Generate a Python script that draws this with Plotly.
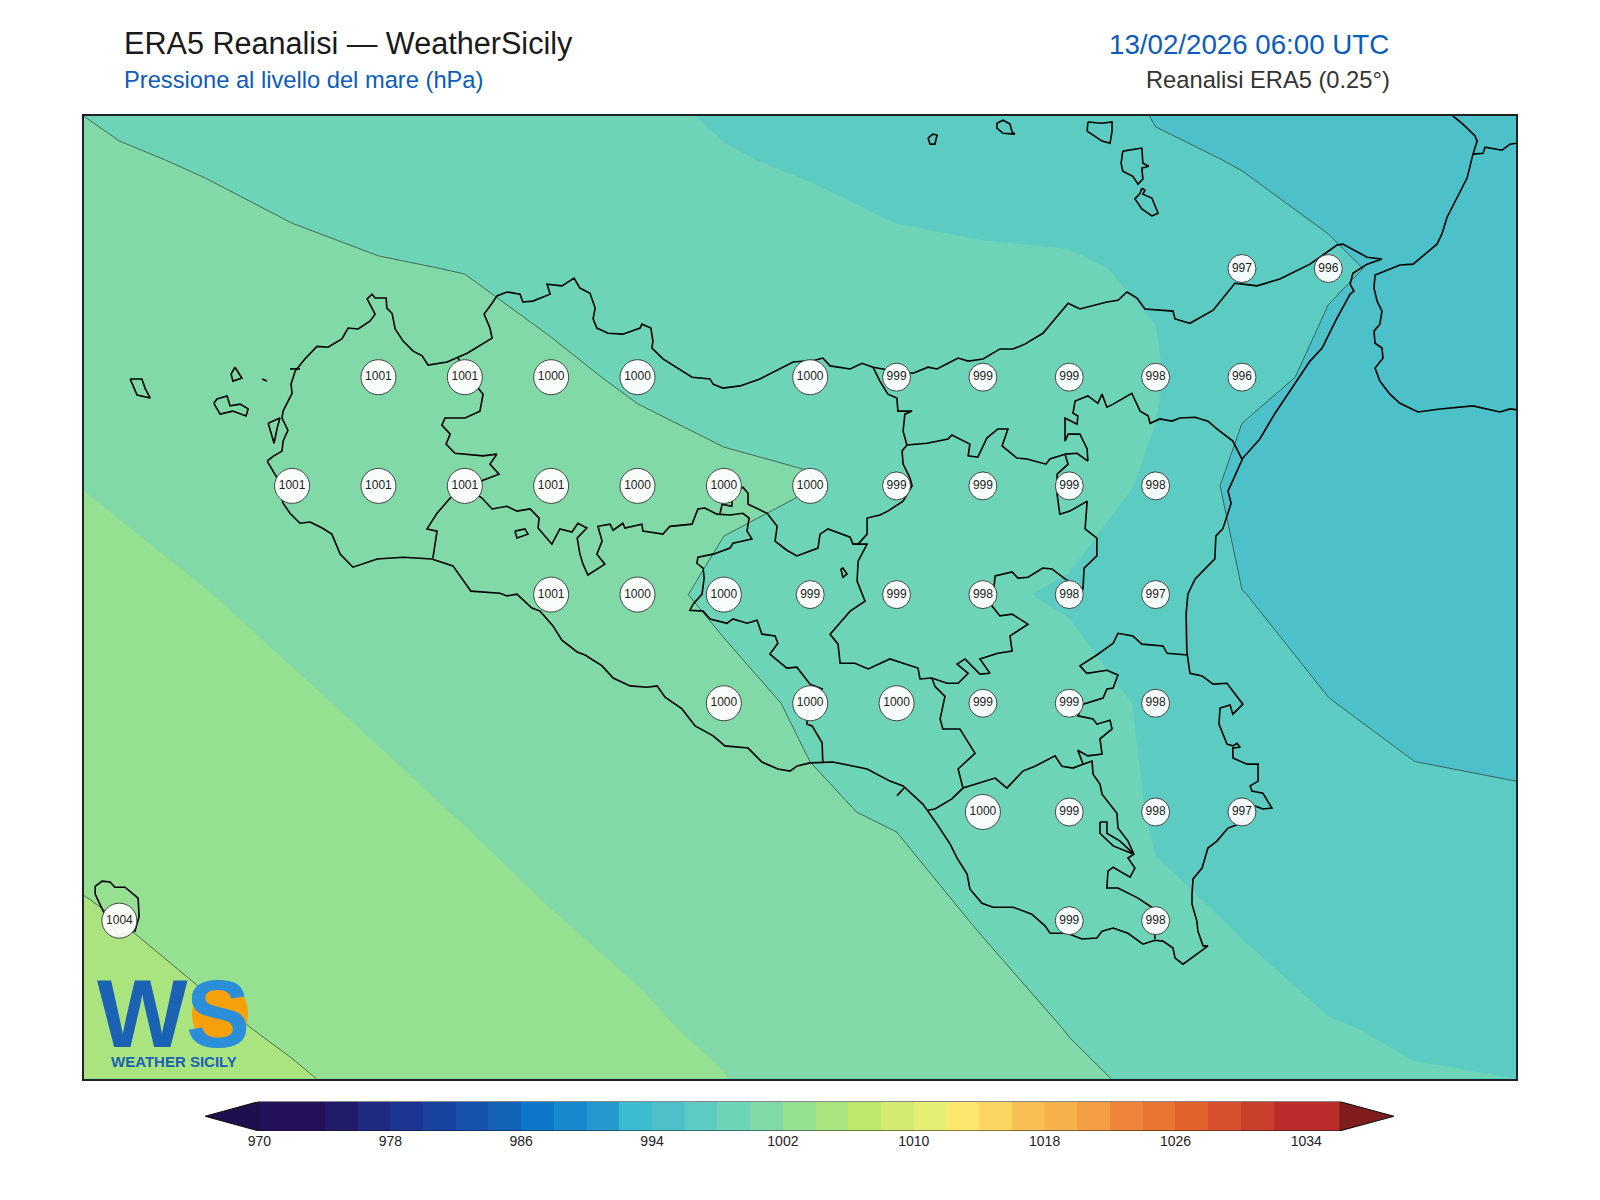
import numpy as np
import plotly.graph_objects as go

# ERA5 grid, 0.25 deg
lats = [38.75, 38.5, 38.25, 38.0, 37.75, 37.5, 37.25, 37.0, 36.75, 36.5, 36.25]
lons = [11.75, 12.0, 12.25, 12.5, 12.75, 13.0, 13.25, 13.5, 13.75, 14.0, 14.25, 14.5, 14.75, 15.0, 15.25, 15.5, 15.75, 16.0, 16.25]

# sea level pressure (hPa), one list per longitude, north to south
p_1175 = [999.84, 1000.43, 1001.02, 1001.61, 1002.18, 1002.71, 1003.24, 1003.77, 1004.30, 1004.83, 1005.36]
p_1200 = [999.52, 1000.10, 1000.68, 1001.25, 1001.83, 1002.38, 1002.92, 1003.46, 1004.00, 1004.54, 1005.08]
p_1225 = [999.38, 999.91, 1000.44, 1000.97, 1001.50, 1002.03, 1002.57, 1003.11, 1003.65, 1004.18, 1004.72]
p_1250 = [999.23, 999.72, 1000.20, 1000.69, 1001.17, 1001.66, 1002.17, 1002.73, 1003.29, 1003.85, 1004.41]
p_1275 = [999.18, 999.62, 1000.05, 1000.49, 1000.93, 1001.36, 1001.80, 1002.31, 1002.89, 1003.46, 1004.04]
p_1300 = [999.20, 999.59, 999.98, 1000.37, 1000.76, 1001.15, 1001.54, 1001.93, 1002.47, 1003.00, 1003.55]
p_1325 = [998.99, 999.38, 999.76, 1000.14, 1000.52, 1000.90, 1001.28, 1001.66, 1002.04, 1002.55, 1003.05]
p_1350 = [997.94, 998.57, 999.23, 999.90, 1000.31, 1000.50, 1001.04, 1001.41, 1001.78, 1002.15, 1002.50]
p_1375 = [997.37, 998.12, 998.82, 999.46, 1000.30, 999.65, 1000.53, 1000.96, 1001.39, 1001.83, 1002.27]
p_1400 = [996.74, 997.80, 998.79, 999.81, 1000.03, 999.30, 999.73, 1000.23, 1000.70, 1001.20, 1001.70]
p_1425 = [996.80, 997.40, 998.42, 999.30, 999.45, 999.30, 999.60, 999.80, 1000.89, 1001.20, 1001.50]
p_1450 = [996.60, 997.40, 998.21, 999.00, 998.90, 998.20, 999.30, 999.60, 999.83, 1000.95, 1001.30]
p_1475 = [996.70, 997.40, 998.13, 998.80, 998.60, 997.85, 998.54, 998.70, 998.90, 999.93, 1000.90]
p_1500 = [995.31, 996.30, 997.84, 998.15, 997.80, 997.20, 997.80, 997.90, 998.15, 999.00, 1000.16]
p_1525 = [995.00, 995.91, 996.80, 996.45, 995.39, 996.03, 996.90, 997.40, 997.96, 998.20, 999.00]
p_1550 = [995.00, 995.70, 996.14, 995.72, 995.40, 995.50, 996.03, 996.60, 997.20, 998.11, 998.60]
p_1575 = [994.90, 995.40, 995.79, 995.20, 995.10, 995.30, 995.70, 996.26, 996.90, 997.80, 998.48]
p_1600 = [994.80, 995.00, 995.00, 994.90, 994.90, 995.10, 995.40, 996.27, 996.70, 997.40, 998.80]
p_1625 = [994.60, 994.80, 994.80, 994.70, 994.70, 994.90, 995.20, 996.15, 996.50, 997.10, 998.70]

# labelled grid points
lab_lon = [15.25, 15.5,
           12.75, 13.0, 13.25, 13.5, 14.0, 14.25, 14.5, 14.75, 15.0, 15.25,
           12.5, 12.75, 13.0, 13.25, 13.5, 13.75, 14.0, 14.25, 14.5, 14.75, 15.0,
           13.25, 13.5, 13.75, 14.0, 14.25, 14.5, 14.75, 15.0,
           13.75, 14.0, 14.25, 14.5, 14.75, 15.0,
           14.5, 14.75, 15.0, 15.25,
           14.75, 15.0, 12.0]
lab_lat = [38.25, 38.25,
           38.0, 38.0, 38.0, 38.0, 38.0, 38.0, 38.0, 38.0, 38.0, 38.0,
           37.75, 37.75, 37.75, 37.75, 37.75, 37.75, 37.75, 37.75, 37.75, 37.75, 37.75,
           37.5, 37.5, 37.5, 37.5, 37.5, 37.5, 37.5, 37.5,
           37.25, 37.25, 37.25, 37.25, 37.25, 37.25,
           37.0, 37.0, 37.0, 37.0,
           36.75, 36.75, 36.75]
lab_val = [997, 996,
           1001, 1001, 1000, 1000, 1000, 999, 999, 999, 998, 996,
           1001, 1001, 1001, 1001, 1000, 1000, 1000, 999, 999, 999, 998,
           1001, 1000, 1000, 999, 999, 998, 998, 997,
           1000, 1000, 1000, 999, 999, 998,
           1000, 999, 998, 997,
           999, 998, 1004]

# colour bar
levels = list(range(970, 1037, 2))
band_colors = ["#24115a", "#24115a", "#211b6b", "#1f2a80", "#1b3591", "#17429f", "#1552ad", "#1262b8",
               "#0e78c8", "#1888cf", "#2599cf", "#3bbcd1", "#4cc1ca", "#5ccbc1", "#6dd4b8", "#80d9a7",
               "#96e092", "#aae47e", "#bde86b", "#d3ec6f", "#e4ee72", "#fde770", "#fcd663", "#f9bf55",
               "#f6b04c", "#f39e42", "#ee8639", "#e97530", "#e26029", "#d84f2c", "#c93f2c", "#bc2c2c", "#bc2c2c"]
bar_ticks = [970, 978, 986, 994, 1002, 1010, 1018, 1026, 1034]

# coast of Sicily
sic_lon = [12.427, 12.444, 12.470, 12.473, 12.487, 12.470, 12.473, 12.499, 12.496, 12.508, 12.536, 12.571, 12.603, 12.643, 12.661, 12.690, 12.724, 12.739, 12.716, 12.730, 12.739, 12.771, 12.773, 12.788, 12.797, 12.820, 12.849, 12.875, 12.892, 12.947, 13.005, 13.077, 13.071, 13.054, 13.077, 13.091, 13.120, 13.158, 13.166, 13.195, 13.245, 13.236, 13.279, 13.314, 13.331, 13.360, 13.375, 13.369, 13.380, 13.412, 13.455, 13.505, 13.510, 13.536, 13.542, 13.539, 13.571, 13.612, 13.655, 13.707, 13.716, 13.744, 13.794, 13.851, 13.947, 14.010, 14.033, 14.054, 14.112, 14.146, 14.178, 14.227, 14.294, 14.337, 14.363, 14.395, 14.424, 14.453, 14.496, 14.545, 14.583, 14.617, 14.669, 14.742, 14.776, 14.854, 14.886, 14.912, 14.941, 14.964, 15.045, 15.051, 15.094, 15.161, 15.224, 15.247, 15.288, 15.354, 15.441, 15.519, 15.536, 15.606, 15.649, 15.606, 15.565, 15.557, 15.568, 15.557, 15.519, 15.476, 15.441, 15.340, 15.296, 15.247, 15.204, 15.213, 15.195, 15.189, 15.169, 15.166, 15.109, 15.088, 15.083, 15.085, 15.094, 15.129, 15.161, 15.201, 15.247, 15.218, 15.210, 15.181, 15.178, 15.201, 15.218, 15.230, 15.239, 15.218, 15.218, 15.259, 15.291, 15.291, 15.268, 15.273, 15.305, 15.331, 15.305, 15.282, 15.259, 15.204, 15.172, 15.146, 15.129, 15.103, 15.100, 15.100, 15.114, 15.117, 15.132, 15.146, 15.114, 15.074, 15.051, 15.045, 15.016, 14.993, 14.958, 14.915, 14.872, 14.840, 14.825, 14.782, 14.739, 14.690, 14.675, 14.637, 14.583, 14.525, 14.493, 14.458, 14.450, 14.421, 14.401, 14.363, 14.322, 14.265, 14.227, 14.161, 14.062, 13.996, 13.959, 13.938, 13.903, 13.857, 13.817, 13.750, 13.716, 13.664, 13.626, 13.577, 13.554, 13.525, 13.476, 13.427, 13.395, 13.346, 13.323, 13.279, 13.253, 13.216, 13.192, 13.149, 13.120, 13.100, 13.016, 12.964, 12.903, 12.820, 12.745, 12.675, 12.638, 12.614, 12.586, 12.551, 12.522, 12.493, 12.473, 12.456, 12.427]
sic_lat = [37.807, 37.818, 37.830, 37.853, 37.878, 37.906, 37.922, 37.963, 37.984, 38.014, 38.042, 38.071, 38.069, 38.088, 38.113, 38.111, 38.129, 38.145, 38.180, 38.191, 38.182, 38.182, 38.159, 38.147, 38.111, 38.083, 38.060, 38.049, 38.028, 38.035, 38.055, 38.090, 38.113, 38.145, 38.170, 38.187, 38.196, 38.191, 38.173, 38.175, 38.191, 38.214, 38.210, 38.228, 38.205, 38.193, 38.159, 38.134, 38.113, 38.101, 38.099, 38.113, 38.122, 38.113, 38.083, 38.067, 38.042, 38.021, 38.000, 37.996, 37.984, 37.975, 37.980, 37.996, 38.035, 38.039, 38.044, 38.026, 38.019, 38.032, 38.023, 38.016, 38.009, 38.023, 38.019, 38.032, 38.044, 38.037, 38.042, 38.065, 38.065, 38.076, 38.101, 38.170, 38.157, 38.173, 38.177, 38.196, 38.182, 38.157, 38.152, 38.134, 38.124, 38.154, 38.216, 38.214, 38.210, 38.226, 38.260, 38.304, 38.306, 38.276, 38.272, 38.260, 38.239, 38.214, 38.198, 38.191, 38.136, 38.067, 38.037, 37.917, 37.858, 37.814, 37.738, 37.710, 37.669, 37.651, 37.635, 37.582, 37.536, 37.501, 37.455, 37.370, 37.319, 37.313, 37.294, 37.296, 37.248, 37.225, 37.246, 37.239, 37.202, 37.156, 37.152, 37.158, 37.149, 37.147, 37.124, 37.110, 37.110, 37.071, 37.060, 37.048, 37.043, 37.009, 37.007, 37.014, 36.979, 36.963, 36.933, 36.917, 36.871, 36.846, 36.811, 36.788, 36.749, 36.726, 36.692, 36.692, 36.673, 36.650, 36.664, 36.687, 36.703, 36.705, 36.696, 36.721, 36.733, 36.726, 36.710, 36.708, 36.721, 36.721, 36.738, 36.765, 36.781, 36.781, 36.790, 36.823, 36.857, 36.894, 36.926, 36.972, 37.018, 37.060, 37.071, 37.099, 37.115, 37.113, 37.106, 37.094, 37.099, 37.115, 37.147, 37.152, 37.175, 37.198, 37.237, 37.264, 37.290, 37.287, 37.290, 37.308, 37.336, 37.361, 37.368, 37.395, 37.428, 37.462, 37.469, 37.501, 37.497, 37.503, 37.508, 37.566, 37.582, 37.586, 37.582, 37.563, 37.593, 37.639, 37.653, 37.667, 37.664, 37.687, 37.710, 37.768, 37.807]

# province borders
tp_lon = [12.979, 13.005, 13.051, 13.042, 12.999, 12.941, 12.932, 12.956, 12.944, 12.970, 13.051, 13.091, 13.071, 13.097, 13.051, 13.005, 12.956, 12.918, 12.889, 12.918, 12.906]
tp_lat = [38.044, 38.007, 37.961, 37.922, 37.906, 37.906, 37.890, 37.869, 37.846, 37.825, 37.819, 37.823, 37.800, 37.777, 37.763, 37.745, 37.722, 37.687, 37.651, 37.646, 37.584]
ag_lon = [13.005, 13.048, 13.077, 13.120, 13.149, 13.187, 13.213, 13.210, 13.250, 13.273, 13.308, 13.325, 13.351, 13.323, 13.331, 13.340, 13.354, 13.403, 13.380, 13.395, 13.383, 13.418, 13.427, 13.455, 13.461, 13.510, 13.513, 13.571, 13.591, 13.655, 13.672, 13.692, 13.727, 13.765, 13.802, 13.820, 13.817, 13.814, 13.828, 13.773, 13.765, 13.716, 13.672, 13.669, 13.687, 13.690, 13.684, 13.658, 13.649, 13.687, 13.707, 13.756, 13.773, 13.814, 13.843, 13.857, 13.895, 13.903, 13.880, 13.929, 13.958, 13.996, 14.031, 13.987, 13.987, 14.002, 14.031, 14.033]
ag_lat = [37.745, 37.722, 37.697, 37.703, 37.692, 37.697, 37.676, 37.653, 37.616, 37.651, 37.644, 37.664, 37.653, 37.630, 37.593, 37.570, 37.545, 37.570, 37.593, 37.623, 37.657, 37.662, 37.648, 37.664, 37.653, 37.662, 37.646, 37.639, 37.657, 37.662, 37.697, 37.699, 37.685, 37.683, 37.687, 37.676, 37.662, 37.646, 37.628, 37.618, 37.607, 37.593, 37.586, 37.572, 37.561, 37.538, 37.501, 37.478, 37.464, 37.462, 37.444, 37.434, 37.444, 37.434, 37.441, 37.409, 37.405, 37.388, 37.363, 37.331, 37.333, 37.294, 37.283, 37.225, 37.202, 37.198, 37.159, 37.112]
cl_lon = [13.736, 13.742, 13.770, 13.773, 13.802, 13.817, 13.817, 13.872, 13.901, 13.895, 13.929, 13.958, 14.019, 14.025, 14.048, 14.112, 14.120, 14.161, 14.135, 14.132, 14.155, 14.112, 14.054, 14.077, 14.083, 14.126, 14.164, 14.227, 14.265, 14.308, 14.314, 14.348, 14.392, 14.424, 14.453, 14.421, 14.444, 14.487, 14.516, 14.487, 14.539, 14.580, 14.574, 14.626, 14.580, 14.545, 14.522, 14.531, 14.580, 14.597, 14.626, 14.669, 14.695, 14.733, 14.785, 14.788, 14.825, 14.825, 14.791, 14.797, 14.747, 14.718, 14.710, 14.710, 14.742, 14.733, 14.689, 14.678, 14.623, 14.594, 14.551, 14.568, 14.539, 14.507, 14.481, 14.453, 14.458, 14.406, 14.395, 14.334, 14.276]
cl_lat = [37.687, 37.708, 37.703, 37.733, 37.747, 37.733, 37.708, 37.687, 37.657, 37.623, 37.602, 37.589, 37.607, 37.639, 37.651, 37.632, 37.616, 37.616, 37.577, 37.531, 37.485, 37.462, 37.409, 37.386, 37.342, 37.342, 37.329, 37.352, 37.342, 37.331, 37.306, 37.308, 37.296, 37.296, 37.319, 37.340, 37.352, 37.317, 37.319, 37.352, 37.365, 37.370, 37.405, 37.432, 37.455, 37.451, 37.474, 37.543, 37.552, 37.538, 37.540, 37.561, 37.559, 37.536, 37.513, 37.561, 37.589, 37.630, 37.651, 37.715, 37.692, 37.685, 37.731, 37.777, 37.800, 37.823, 37.812, 37.800, 37.812, 37.814, 37.842, 37.881, 37.881, 37.860, 37.816, 37.819, 37.846, 37.867, 37.858, 37.848, 37.844]
me1_lon = [14.178, 14.198, 14.221, 14.247, 14.250, 14.291, 14.270, 14.265, 14.276, 14.262, 14.265, 14.285, 14.291, 14.265, 14.221, 14.198, 14.161, 14.161, 14.135, 14.120]
me1_lat = [38.023, 37.991, 37.961, 37.952, 37.922, 37.922, 37.915, 37.876, 37.844, 37.830, 37.800, 37.768, 37.750, 37.715, 37.692, 37.683, 37.676, 37.639, 37.616, 37.616]
me2_lon = [15.244, 15.218, 15.172, 15.146, 15.109, 15.065, 15.042, 15.007, 14.979, 14.973, 14.950, 14.926, 14.872, 14.854, 14.840, 14.828, 14.799, 14.762, 14.756, 14.770, 14.768, 14.733, 14.733, 14.742, 14.776, 14.797, 14.799, 14.768, 14.733]
me2_lat = [37.812, 37.853, 37.881, 37.899, 37.908, 37.906, 37.899, 37.904, 37.894, 37.911, 37.922, 37.963, 37.938, 37.931, 37.961, 37.940, 37.957, 37.945, 37.917, 37.911, 37.892, 37.906, 37.853, 37.869, 37.869, 37.835, 37.807, 37.825, 37.823]
sr_lon = [15.088, 15.028, 15.016, 14.955, 14.929, 14.886, 14.872, 14.825, 14.776, 14.796, 14.854, 14.886, 14.872, 14.854, 14.843, 14.785, 14.770, 14.814, 14.825, 14.863, 14.869, 14.834, 14.840, 14.799, 14.770, 14.785, 14.811, 14.814, 14.834, 14.840, 14.883, 14.886, 14.915, 14.932, 14.915, 14.935, 14.921, 14.872, 14.857, 14.854, 14.886, 14.944, 14.987, 14.993]
sr_lat = [37.361, 37.365, 37.382, 37.386, 37.405, 37.411, 37.388, 37.361, 37.336, 37.319, 37.326, 37.315, 37.285, 37.283, 37.262, 37.248, 37.221, 37.214, 37.202, 37.211, 37.191, 37.168, 37.133, 37.129, 37.142, 37.110, 37.117, 37.087, 37.064, 37.041, 36.997, 36.963, 36.933, 36.903, 36.894, 36.871, 36.850, 36.873, 36.864, 36.825, 36.825, 36.802, 36.779, 36.708]
rg_lon = [14.785, 14.756, 14.724, 14.704, 14.646, 14.611, 14.565, 14.531, 14.438, 14.406, 14.357, 14.337]
rg_lat = [37.110, 37.101, 37.105, 37.129, 37.105, 37.094, 37.055, 37.078, 37.055, 37.030, 37.007, 37.004]
ct_lon = [14.438, 14.424, 14.473, 14.429, 14.380, 14.372, 14.386, 14.357, 14.348]
ct_lat = [37.055, 37.099, 37.135, 37.191, 37.191, 37.214, 37.266, 37.289, 37.308]
stub_lon = [14.247, 14.268]
stub_lat = [37.037, 37.055]

# islands and lakes
pant_lon = [11.930, 11.930, 11.950, 11.973, 11.987, 12.016, 12.054, 12.057, 12.045, 11.996, 11.953, 11.930]
pant_lat = [36.811, 36.829, 36.841, 36.839, 36.827, 36.827, 36.802, 36.760, 36.726, 36.715, 36.772, 36.811]
mare_lon = [12.031, 12.065, 12.074, 12.089, 12.051, 12.039, 12.031]
mare_lat = [37.996, 37.996, 37.975, 37.952, 37.959, 37.980, 37.996]
leva_lon = [12.334, 12.323, 12.328, 12.354, 12.334]
leva_lat = [38.023, 38.007, 37.991, 37.998, 38.023]
favi_lon = [12.273, 12.282, 12.311, 12.320, 12.349, 12.372, 12.366, 12.328, 12.291, 12.273]
favi_lat = [37.940, 37.950, 37.957, 37.934, 37.938, 37.927, 37.911, 37.922, 37.915, 37.940]
sm1_lon = [12.412, 12.427]
sm1_lat = [37.996, 37.991]
sm2_lon = [12.493, 12.522]
sm2_lat = [38.019, 38.019]
stag_lon = [12.430, 12.464, 12.456, 12.447, 12.430]
stag_lat = [37.894, 37.906, 37.883, 37.848, 37.894]
lake1_lon = [13.143, 13.172, 13.181, 13.149, 13.143]
lake1_lat = [37.646, 37.651, 37.639, 37.630, 37.646]
lake2_lon = [14.085, 14.091, 14.103, 14.091, 14.085]
lake2_lat = [37.559, 37.561, 37.547, 37.540, 37.559]
lake3_lon = [14.834, 14.854, 14.854, 14.892, 14.932, 14.872, 14.834, 14.834]
lake3_lat = [36.977, 36.977, 36.951, 36.933, 36.903, 36.922, 36.951, 36.977]
alic_lon = [14.337, 14.351, 14.363, 14.357, 14.343, 14.337]
alic_lat = [38.550, 38.559, 38.557, 38.536, 38.536, 38.550]
fili_lon = [14.536, 14.554, 14.574, 14.580, 14.588, 14.554, 14.536, 14.536]
fili_lat = [38.584, 38.591, 38.582, 38.564, 38.559, 38.561, 38.573, 38.584]
sali_lon = [14.799, 14.840, 14.869, 14.869, 14.863, 14.840, 14.797, 14.799]
sali_lat = [38.587, 38.584, 38.587, 38.566, 38.538, 38.543, 38.566, 38.587]
lipa_lon = [14.900, 14.955, 14.958, 14.975, 14.955, 14.958, 14.944, 14.929, 14.900, 14.895, 14.900]
lipa_lat = [38.520, 38.527, 38.492, 38.485, 38.481, 38.456, 38.444, 38.462, 38.474, 38.492, 38.520]
vulc_lon = [14.955, 14.964, 14.958, 14.984, 15.002, 14.984, 14.955, 14.935, 14.950, 14.955]
vulc_lat = [38.435, 38.430, 38.421, 38.412, 38.377, 38.371, 38.387, 38.410, 38.423, 38.435]

# Calabria
cal_lon = [15.846, 15.854, 15.883, 15.918, 15.924, 15.912, 15.895, 15.860, 15.837, 15.822, 15.808, 15.739, 15.701, 15.629, 15.626, 15.635, 15.649, 15.643, 15.626, 15.629, 15.649, 15.652, 15.629, 15.643, 15.672, 15.701, 15.753, 15.817, 15.912, 15.990, 16.019, 16.077]
cal_lat = [38.617, 38.601, 38.582, 38.555, 38.543, 38.513, 38.458, 38.405, 38.368, 38.329, 38.306, 38.260, 38.258, 38.235, 38.205, 38.175, 38.152, 38.122, 38.106, 38.078, 38.067, 38.044, 38.021, 37.991, 37.961, 37.940, 37.920, 37.927, 37.934, 37.920, 37.927, 37.922]
cal2_lon = [15.912, 15.941, 15.947, 15.996, 16.019, 16.077]
cal2_lat = [38.513, 38.515, 38.529, 38.522, 38.536, 38.543]

outlines = [(sic_lon, sic_lat), (tp_lon, tp_lat), (ag_lon, ag_lat), (cl_lon, cl_lat), (me1_lon, me1_lat),
            (me2_lon, me2_lat), (sr_lon, sr_lat), (rg_lon, rg_lat), (ct_lon, ct_lat), (stub_lon, stub_lat),
            (pant_lon, pant_lat), (mare_lon, mare_lat), (leva_lon, leva_lat), (favi_lon, favi_lat),
            (sm1_lon, sm1_lat), (sm2_lon, sm2_lat), (stag_lon, stag_lat), (lake1_lon, lake1_lat),
            (lake2_lon, lake2_lat), (lake3_lon, lake3_lat), (alic_lon, alic_lat), (fili_lon, fili_lat),
            (sali_lon, sali_lat), (lipa_lon, lipa_lat), (vulc_lon, vulc_lat), (cal_lon, cal_lat), (cal2_lon, cal2_lat)]

# the page keeps an 8 px body margin, so the figure is 8 px smaller and all layout pixels are taken off it
PAGE = 8
W, H = 1600 - PAGE, 1200 - PAGE


def fx(x):
    return (x - PAGE) / W


def fy(y):
    return 1 - (y - PAGE) / H


frame = dict(l=84, r=1516, t=115.5, b=1078.5)
bar = dict(l=205, r=1394, t=1101.5, b=1131)

pressure = np.array([p_1175, p_1200, p_1225, p_1250, p_1275, p_1300, p_1325, p_1350, p_1375, p_1400,
                     p_1425, p_1450, p_1475, p_1500, p_1525, p_1550, p_1575, p_1600, p_1625]).T[::-1]
grid_lat = lats[::-1]

n = len(band_colors)
scale = []
for i, c in enumerate(band_colors):
    scale += [[i / n, c], [(i + 1) / n, c]]

fig = go.Figure()

# filled bands
fig.add_trace(go.Contour(x=lons, y=grid_lat, z=pressure, zmin=levels[0], zmax=levels[-1], colorscale=scale,
                         autocontour=False, contours=dict(start=levels[0], end=levels[-1], size=2, coloring="fill", showlines=False),
                         line=dict(smoothing=0, width=0), showscale=False, hoverinfo="skip"))
# isobars every 4 hPa
fig.add_trace(go.Contour(x=lons, y=grid_lat, z=pressure, autocontour=False,
                         contours=dict(start=996, end=1004, size=4, coloring="none"),
                         line=dict(smoothing=0, width=0.7, color="#2b3a3a"), showscale=False, hoverinfo="skip"))

# outlines were read a little narrow in longitude, stretch them around 12E
for lon, lat in outlines:
    fig.add_trace(go.Scatter(x=[12 + (v - 12) * 1.00174 for v in lon], y=lat, mode="lines",
                             line=dict(color="black", width=1.6), hoverinfo="skip"))

# value labels
fig.add_trace(go.Scatter(x=lab_lon, y=lab_lat, mode="markers+text", text=[str(v) for v in lab_val],
                         textposition="middle center", textfont=dict(family="Liberation Sans", size=12, color="#222222"),
                         marker=dict(size=[35 if v >= 1000 else 28 for v in lab_val], color="rgba(255,255,255,0.94)", opacity=1,
                                     line=dict(color="#444444", width=1)), hoverinfo="skip"))

# colour bar
mids = [(a + b) / 2 for a, b in zip(levels[:-1], levels[1:])]
fig.add_trace(go.Bar(x=mids, y=[1] * n, width=2, marker=dict(color=band_colors, line=dict(width=0)), xaxis="x2", yaxis="y2", hoverinfo="skip"))
low_tip = levels[0] - 3.33
high_tip = levels[-1] + 3.36
fig.add_trace(go.Scatter(x=[levels[0], low_tip, levels[0], levels[0]], y=[0, 0.5, 1, 0], mode="lines", fill="toself", fillcolor="#1f0f4f",
                         line=dict(width=0), xaxis="x2", yaxis="y2", hoverinfo="skip"))
fig.add_trace(go.Scatter(x=[levels[-1], high_tip, levels[-1], levels[-1]], y=[0, 0.5, 1, 0], mode="lines", fill="toself", fillcolor="#7f1d1d",
                         line=dict(width=0), xaxis="x2", yaxis="y2", hoverinfo="skip"))
fig.add_trace(go.Scatter(x=[low_tip, levels[0], levels[-1], high_tip, levels[-1], levels[0], low_tip], y=[0.5, 0, 0, 0.5, 1, 1, 0.5], mode="lines",
                         line=dict(color="#111111", width=1.2), xaxis="x2", yaxis="y2", cliponaxis=False, hoverinfo="skip"))


def note(text, x, y, size, color, anchor="left"):
    fig.add_annotation(text=text, x=fx(x), y=fy(y), xref="paper", yref="paper", xanchor=anchor, yanchor="middle",
                       showarrow=False, font=dict(family="Liberation Sans", size=size, color=color))


note("ERA5 Reanalisi — WeatherSicily", 122, 43, 30.6, "#1a1a1a")
note("Pressione al livello del mare (hPa)", 122, 80, 23.7, "#0b5cbd")
note("13/02/2026 06:00 UTC", 1391, 44, 27.7, "#0b5cbd", anchor="right")
note("Reanalisi ERA5 (0.25°)", 1392, 80, 23.7, "#333333", anchor="right")

# logo
fig.add_shape(type="circle", xref="paper", yref="paper", x0=fx(192), x1=fx(248), y0=fy(1048), y1=fy(980),
              fillcolor="#f7a10a", line=dict(width=0))
note("<b>W</b>", 142, 1013, 96, "#1c62b4", anchor="center")
note("<b>S</b>", 218, 1013, 96, "#2a8fd8", anchor="center")
note("<b>WEATHER SICILY</b>", 174, 1061, 15, "#1c62b4", anchor="center")

fig.update_layout(
    width=W, height=H, margin=dict(l=0, r=0, t=0, b=0), paper_bgcolor="white", plot_bgcolor="white",
    showlegend=False, bargap=0, font=dict(family="Liberation Sans"),
    xaxis=dict(domain=[fx(frame["l"]), fx(frame["r"])], range=[11.8975, 16.0434], showgrid=False, zeroline=False,
               showticklabels=False, ticks="", showline=True, mirror=True, linecolor="#222222", linewidth=1.5),
    yaxis=dict(domain=[fy(frame["b"]), fy(frame["t"])], range=[36.387, 38.6019], showgrid=False, zeroline=False,
               showticklabels=False, ticks="", showline=True, mirror=True, linecolor="#222222", linewidth=1.5),
    xaxis2=dict(domain=[fx(bar["l"]), fx(bar["r"])], range=[low_tip, high_tip], anchor="y2", showgrid=False, zeroline=False,
                tickmode="array", tickvals=bar_ticks, ticks="", tickfont=dict(size=14, color="#222222"), showline=False),
    yaxis2=dict(domain=[fy(bar["b"]), fy(bar["t"])], range=[0, 1], anchor="x2", showgrid=False, zeroline=False,
                showticklabels=False, ticks="", showline=False),
)

fig.write_html("out.html")
